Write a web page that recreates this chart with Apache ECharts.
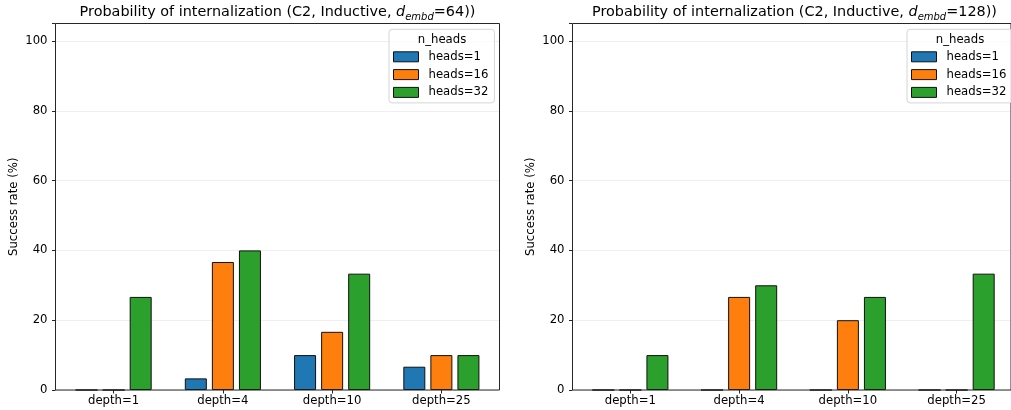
<!DOCTYPE html>
<html>
<head>
<meta charset="utf-8">
<script src="https://cdn.jsdelivr.net/npm/echarts@6/dist/echarts.min.js"></script>
<style>
html,body{margin:0;padding:0;background:#fff;}
#c{width:1011px;height:410px;}
</style>
</head>
<body>
<div id="c"></div>
<script>
const categories = ['depth=1', 'depth=4', 'depth=10', 'depth=25'];
const seriesNames = ['heads=1', 'heads=16', 'heads=32'];
const colors = ['#1f77b4', '#ff7f0e', '#2ca02c'];
const yTicks = [0, 20, 40, 60, 80, 100];

// Left chart: d_embd = 64
const left_h1 = [0, 3.33, 10, 6.67];
const left_h16 = [0, 36.67, 16.67, 10];
const left_h32 = [26.67, 40, 33.33, 10];
// Right chart: d_embd = 128
const right_h1 = [0, 0, 0, 0];
const right_h16 = [0, 26.67, 20, 0];
const right_h32 = [10, 30, 26.67, 33.33];

const FONT = 'DejaVu Sans';
const FS = 11.7;

const frames = [
  { left: 55.5, title: '64', data: [left_h1, left_h16, left_h32], legendLeft: 389 },
  { left: 572.5, title: '128', data: [right_h1, right_h16, right_h32], legendLeft: 907 }
];
const PW = 444, TOP = 23.5, PH = 366.5, INSET = 3.5;

const grid = [], xAxis = [], yAxis = [], series = [], legend = [], graphic = [];
frames.forEach((f, k) => {
  // frame grid
  grid.push({ left: f.left, top: TOP, width: PW, height: PH, show: true, borderColor: '#262626', borderWidth: 1, backgroundColor: 'transparent', z: 5 });
  // data grid
  grid.push({ left: f.left + INSET, top: TOP, width: PW - 2 * INSET, height: PH });
  const gf = 2 * k, gd = 2 * k + 1;
  xAxis.push({ gridIndex: gf, type: 'category', data: categories, show: false });
  yAxis.push({ gridIndex: gf, type: 'value', min: 0, max: 105, interval: 20,
    axisLabel: { show: false }, axisLine: { show: false }, axisTick: { show: false },
    splitLine: { show: true, lineStyle: { color: '#ebebeb', width: 0.8 } } });
  xAxis.push({ gridIndex: gd, type: 'category', data: categories,
    axisLine: { show: false },
    axisTick: { show: true, alignWithLabel: true, length: 3.5, lineStyle: { color: '#262626' } },
    axisLabel: { fontFamily: FONT, fontSize: FS, color: '#000', margin: 5 } });
  yAxis.push({ gridIndex: gd, type: 'value', min: 0, max: 105, interval: 20, offset: INSET,
    name: 'Success rate (%)', nameLocation: 'middle', nameGap: 36,
    nameTextStyle: { fontFamily: FONT, fontSize: FS, color: '#000' },
    axisLine: { show: false },
    axisTick: { show: true, length: 3.5, lineStyle: { color: '#262626' } },
    axisLabel: { fontFamily: FONT, fontSize: FS, color: '#000', margin: 8,
      formatter: v => (yTicks.indexOf(v) >= 0 ? String(v) : '') },
    splitLine: { show: false } });
  seriesNames.forEach((n, i) => {
    series.push({ type: 'bar', name: n, xAxisIndex: gd, yAxisIndex: gd, data: f.data[i],
      barWidth: 22, barGap: '23%',
      itemStyle: { color: colors[i], borderColor: '#111', borderWidth: 1 },
      emphasis: { disabled: true }, animation: false });
  });
  legend.push({ data: seriesNames, orient: 'vertical', left: f.legendLeft, top: 29.3,
    padding: [21, 6, 4, 4], itemWidth: 25, itemHeight: 10, itemGap: 4.8, icon: 'rect',
    backgroundColor: 'rgba(255,255,255,0.8)', borderColor: '#d5d5d5', borderWidth: 1, borderRadius: 3,
    itemStyle: { borderColor: '#111', borderWidth: 1 },
    textStyle: { fontFamily: FONT, fontSize: FS, color: '#000', lineHeight: 13, padding: [0, 0, 0, 5] },
    selectedMode: false, z: 10 });
  graphic.push({ type: 'text', x: f.legendLeft + 53, y: 40, z: 20,
    style: { text: 'n_heads', fontFamily: FONT, fontSize: FS, fill: '#000', align: 'center', verticalAlign: 'middle' } });
  graphic.push({ type: 'text', x: f.left + PW / 2, y: 12, z: 20,
    style: { text: '{n|Probability of internalization (C2, Inductive, }{i|d}{s|embd}{n|=' + f.title + '))}',
      align: 'center', verticalAlign: 'middle',
      rich: {
        n: { fontFamily: FONT, fontSize: 14.4, fill: '#000', lineHeight: 20, verticalAlign: 'middle' },
        i: { fontFamily: FONT, fontSize: 14.4, fontStyle: 'italic', fill: '#000', lineHeight: 20, verticalAlign: 'middle' },
        s: { fontFamily: FONT, fontSize: 10, fontStyle: 'italic', fill: '#000', lineHeight: 11, verticalAlign: 'bottom' }
      } } });
});

const chart = echarts.init(document.getElementById('c'), null, { renderer: 'canvas' });
chart.setOption({ animation: false, grid, xAxis, yAxis, series, legend, graphic });
</script>
</body>
</html>
